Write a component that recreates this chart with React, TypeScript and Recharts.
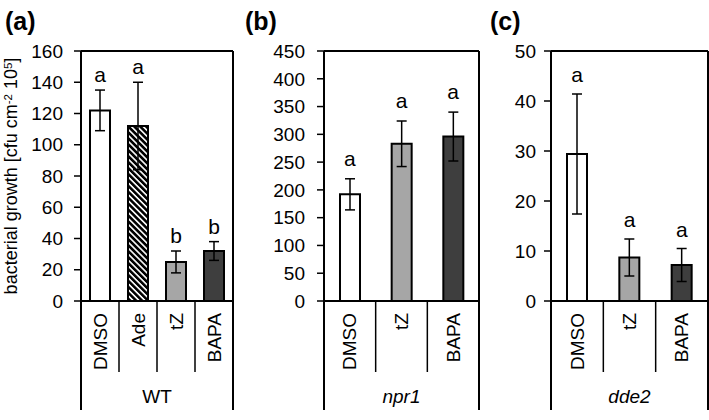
import React from 'react';
import {
  ComposedChart,
  Bar,
  Line,
  XAxis,
  YAxis,
  ErrorBar,
  Cell,
  LabelList,
  ReferenceLine,
} from 'recharts';

const FONT = '"Liberation Sans", Arial, Helvetica, sans-serif';

// (a) wild type
const wtTreatments = ['DMSO', 'Ade', 'tZ', 'BAPA'];
const wtMeans = [122, 112, 25, 32];
const wtErrors = [13, 28, 7, 6];
const wtLetters = ['a', 'a', 'b', 'b'];
const wtTicks = [0, 20, 40, 60, 80, 100, 120, 140, 160];

// (b) npr1 mutant
const npr1Treatments = ['DMSO', 'tZ', 'BAPA'];
const npr1Means = [192, 283, 296];
const npr1Errors = [28, 41, 44];
const npr1Letters = ['a', 'a', 'a'];
const npr1Ticks = [0, 50, 100, 150, 200, 250, 300, 350, 400, 450];

// (c) dde2 mutant
const dde2Treatments = ['DMSO', 'tZ', 'BAPA'];
const dde2Means = [29.4, 8.7, 7.2];
const dde2Errors = [12, 3.7, 3.3];
const dde2Letters = ['a', 'a', 'a'];
const dde2Ticks = [0, 10, 20, 30, 40, 50];

const treatmentFill: Record<string, string> = {
  DMSO: '#ffffff',
  Ade: 'url(#adeHatch)',
  tZ: '#a6a6a6',
  BAPA: '#3e3e3e',
};

// shared vertical layout (chart-local pixels)
const CHART_H = 420;
const PLOT_TOP = 51;
const PLOT_BOTTOM = 301;
const SEP_BOTTOM = 372;
const FRAME_BOTTOM = 410;
const CAT_LABEL_TOP = 313;
const GROUP_BASELINE = 403;
const TEXT_SIZE = 19;

type PanelProps = {
  title: string;
  genotype: string;
  italic: boolean;
  treatments: string[];
  means: number[];
  errors: number[];
  letters: string[];
  ticks: number[];
  left: number;
  width: number;
  yAxisWidth: number;
  marginRight: number;
  tickMargin: number;
  letterOffset: number;
  yLabel?: boolean;
};

const YLabel = () => (
  <text
    transform="rotate(-90)"
    x={-176}
    y={17}
    textAnchor="middle"
    fontSize={18}
    fontFamily={FONT}
    fill="#000"
  >
    bacterial growth [cfu cm
    <tspan fontSize={11.5} dy={-5}>
      -2
    </tspan>
    <tspan dy={5}> 10</tspan>
    <tspan fontSize={11.5} dy={-5}>
      5
    </tspan>
    <tspan dy={5}>]</tspan>
  </text>
);

function Panel(p: PanelProps) {
  const data = p.treatments.map((t, i) => ({
    treatment: t,
    mean: p.means[i],
    err: p.errors[i],
    top: p.means[i] + p.errors[i],
    letter: p.letters[i],
  }));
  const plotLeft = p.yAxisWidth;
  const plotRight = p.width - p.marginRight;
  const band = (plotRight - plotLeft) / data.length;
  const count = data.length;
  const yMax = p.ticks[p.ticks.length - 1];

  const renderTick = (props: any) => {
    const { x, index, payload } = props;
    const l = x - band / 2;
    const r = x + band / 2;
    return (
      <g>
        {index === 0 ? (
          <line x1={l} x2={l} y1={PLOT_BOTTOM} y2={FRAME_BOTTOM} stroke="#000" strokeWidth={2} />
        ) : (
          <line x1={l} x2={l} y1={PLOT_BOTTOM} y2={SEP_BOTTOM} stroke="#000" strokeWidth={1.5} />
        )}
        {index === count - 1 && (
          <line x1={r} x2={r} y1={PLOT_TOP} y2={FRAME_BOTTOM} stroke="#000" strokeWidth={2} />
        )}
        <text
          x={x}
          y={CAT_LABEL_TOP}
          transform={`rotate(-90 ${x} ${CAT_LABEL_TOP})`}
          textAnchor="end"
          dy="0.35em"
          fontSize={TEXT_SIZE}
          fontFamily={FONT}
          fill="#000"
        >
          {payload.value}
        </text>
        {index === 0 && (
          <text
            x={(plotLeft + plotRight) / 2}
            y={GROUP_BASELINE}
            textAnchor="middle"
            fontSize={TEXT_SIZE}
            fontFamily={FONT}
            fontStyle={p.italic ? 'italic' : 'normal'}
            fill="#000"
          >
            {p.genotype}
          </text>
        )}
      </g>
    );
  };

  return (
    <div style={{ position: 'absolute', left: p.left, top: 0 }}>
      <div
        style={{
          position: 'absolute',
          left: 5,
          top: 9,
          fontFamily: FONT,
          fontWeight: 'bold',
          fontSize: 25,
          lineHeight: '25px',
          whiteSpace: 'nowrap',
          color: '#000',
        }}
      >
        {p.title}
      </div>
      <ComposedChart
        width={p.width}
        height={CHART_H}
        data={data}
        margin={{ top: PLOT_TOP, right: p.marginRight, left: 0, bottom: 0 }}
        barCategoryGap={0}
      >
        <defs>
          <pattern
            id="adeHatch"
            patternUnits="userSpaceOnUse"
            width={4.2}
            height={4.2}
            patternTransform="rotate(45)"
          >
            <rect width={4.2} height={4.2} fill="#000" />
            <rect width={4.2} height={1.6} fill="#fff" />
          </pattern>
        </defs>
        <XAxis
          dataKey="treatment"
          height={CHART_H - PLOT_BOTTOM}
          interval={0}
          tickLine={false}
          axisLine={{ stroke: '#000', strokeWidth: 2 }}
          tick={renderTick}
        />
        <YAxis
          width={p.yAxisWidth}
          domain={[0, yMax]}
          ticks={p.ticks}
          interval={0}
          tickSize={7}
          tickMargin={p.tickMargin}
          axisLine={{ stroke: '#000', strokeWidth: 2 }}
          tickLine={{ stroke: '#000', strokeWidth: 1.5 }}
          tick={{ fill: '#000', fontSize: TEXT_SIZE, fontFamily: FONT }}
          label={p.yLabel ? { content: () => <YLabel /> } : undefined}
        />
        <ReferenceLine y={yMax} stroke="#000" strokeWidth={2} />
        <Bar dataKey="mean" barSize={20} stroke="#000" strokeWidth={2} isAnimationActive={false}>
          {data.map((d) => (
            <Cell key={d.treatment} fill={treatmentFill[d.treatment]} />
          ))}
          <ErrorBar dataKey="err" width={5} stroke="#000" strokeWidth={1.5} direction="y" />
        </Bar>
        <Line
          dataKey="top"
          stroke="none"
          dot={false}
          activeDot={false}
          isAnimationActive={false}
          legendType="none"
        >
          <LabelList
            dataKey="letter"
            position="top"
            offset={p.letterOffset}
            fill="#000"
            fontSize={21}
            fontFamily={FONT}
          />
        </Line>
      </ComposedChart>
    </div>
  );
}

export default function App() {
  return (
    <div
      style={{
        position: 'absolute',
        left: 0,
        top: 0,
        width: 709,
        height: 420,
        background: '#fff',
        overflow: 'hidden',
      }}
    >
      <Panel
        title="(a)"
        genotype="WT"
        italic={false}
        treatments={wtTreatments}
        means={wtMeans}
        errors={wtErrors}
        letters={wtLetters}
        ticks={wtTicks}
        left={0}
        width={240}
        yAxisWidth={81}
        marginRight={7}
        tickMargin={11}
        letterOffset={8}
        yLabel
      />
      <Panel
        title="(b)"
        genotype="npr1"
        italic
        treatments={npr1Treatments}
        means={npr1Means}
        errors={npr1Errors}
        letters={npr1Letters}
        ticks={npr1Ticks}
        left={240}
        width={245}
        yAxisWidth={84}
        marginRight={6}
        tickMargin={12}
        letterOffset={13}
      />
      <Panel
        title="(c)"
        genotype="dde2"
        italic
        treatments={dde2Treatments}
        means={dde2Means}
        errors={dde2Errors}
        letters={dde2Letters}
        ticks={dde2Ticks}
        left={485}
        width={224}
        yAxisWidth={66}
        marginRight={1}
        tickMargin={8}
        letterOffset={12}
      />
    </div>
  );
}
